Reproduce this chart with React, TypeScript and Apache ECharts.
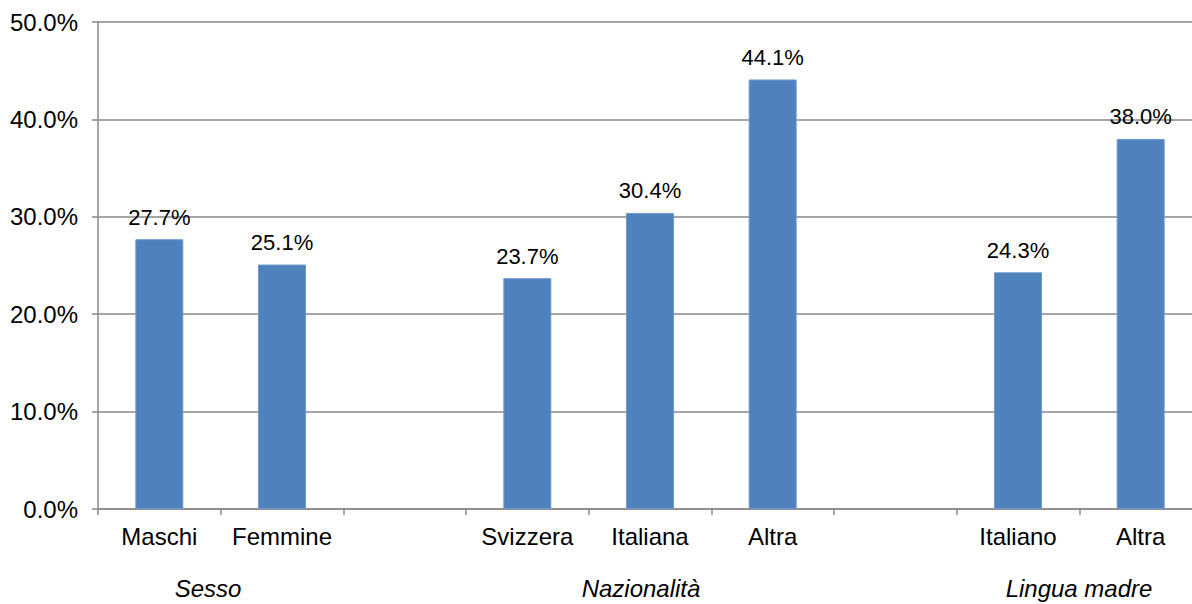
import React, { useEffect, useRef } from "react";
import * as echarts from "echarts";

const categories = ["Maschi", "Femmine", " ", "Svizzera", "Italiana", "Altra", "  ", "Italiano", "Altra"];
const values: (number | null)[] = [27.7, 25.1, null, 23.7, 30.4, 44.1, null, 24.3, 38.0];
const groupLabels = ["Sesso", "Nazionalità", "Lingua madre"];
const yTicks = [0, 10, 20, 30, 40, 50];

export default function App() {
  const ref = useRef<HTMLDivElement>(null);
  useEffect(() => {
    document.body.style.overflow = "hidden";
    const chart = echarts.init(ref.current!, null, { renderer: "svg" });
    const font = "'Liberation Sans', Arial, sans-serif";
    const groupX = [208, 641, 1079];
    chart.setOption({
      animation: false,
      backgroundColor: "#ffffff",
      grid: { left: 98, top: 22, width: 1104, height: 487, containLabel: false },
      xAxis: {
        type: "category",
        data: categories,
        boundaryGap: true,
        axisLine: { lineStyle: { color: "#888888", width: 1.5 } },
        axisTick: { show: true, length: 6, lineStyle: { color: "#888888", width: 1.5 } },
        axisLabel: { color: "#000000", fontSize: 24, fontFamily: font, margin: 15, interval: 0 },
      },
      yAxis: {
        type: "value",
        min: yTicks[0],
        max: yTicks[yTicks.length - 1],
        interval: 10,
        axisLine: { show: true, lineStyle: { color: "#888888", width: 1.5 } },
        axisTick: { show: true, length: 6, lineStyle: { color: "#888888", width: 1.5 } },
        splitLine: { show: true, lineStyle: { color: "#888888", width: 1.5 } },
        axisLabel: {
          color: "#000000",
          fontSize: 24,
          fontFamily: font,
          margin: 20,
          formatter: (v: number) => v.toFixed(1) + "%",
        },
      },
      series: [
        {
          type: "bar",
          data: values,
          barWidth: 48,
          itemStyle: { color: "#4F81BD", borderColor: "#6E9AD0", borderWidth: 1 },
          label: {
            show: true,
            position: "top",
            distance: 11,
            color: "#000000",
            fontSize: 22,
            fontFamily: font,
            formatter: (p: any) => (p.value == null ? "" : Number(p.value).toFixed(1) + "%"),
          },
        },
      ],
      graphic: groupLabels.map((t, i) => ({
        type: "text",
        x: groupX[i],
        y: 588,
        style: {
          text: t,
          fill: "#000000",
          font: `italic 24px ${font}`,
          align: "center",
          verticalAlign: "middle",
        },
      })),
    });
    return () => chart.dispose();
  }, []);
  return (
    <div
      ref={ref}
      style={{ position: "fixed", left: 0, top: 0, width: 1210, height: 604 }}
    />
  );
}
